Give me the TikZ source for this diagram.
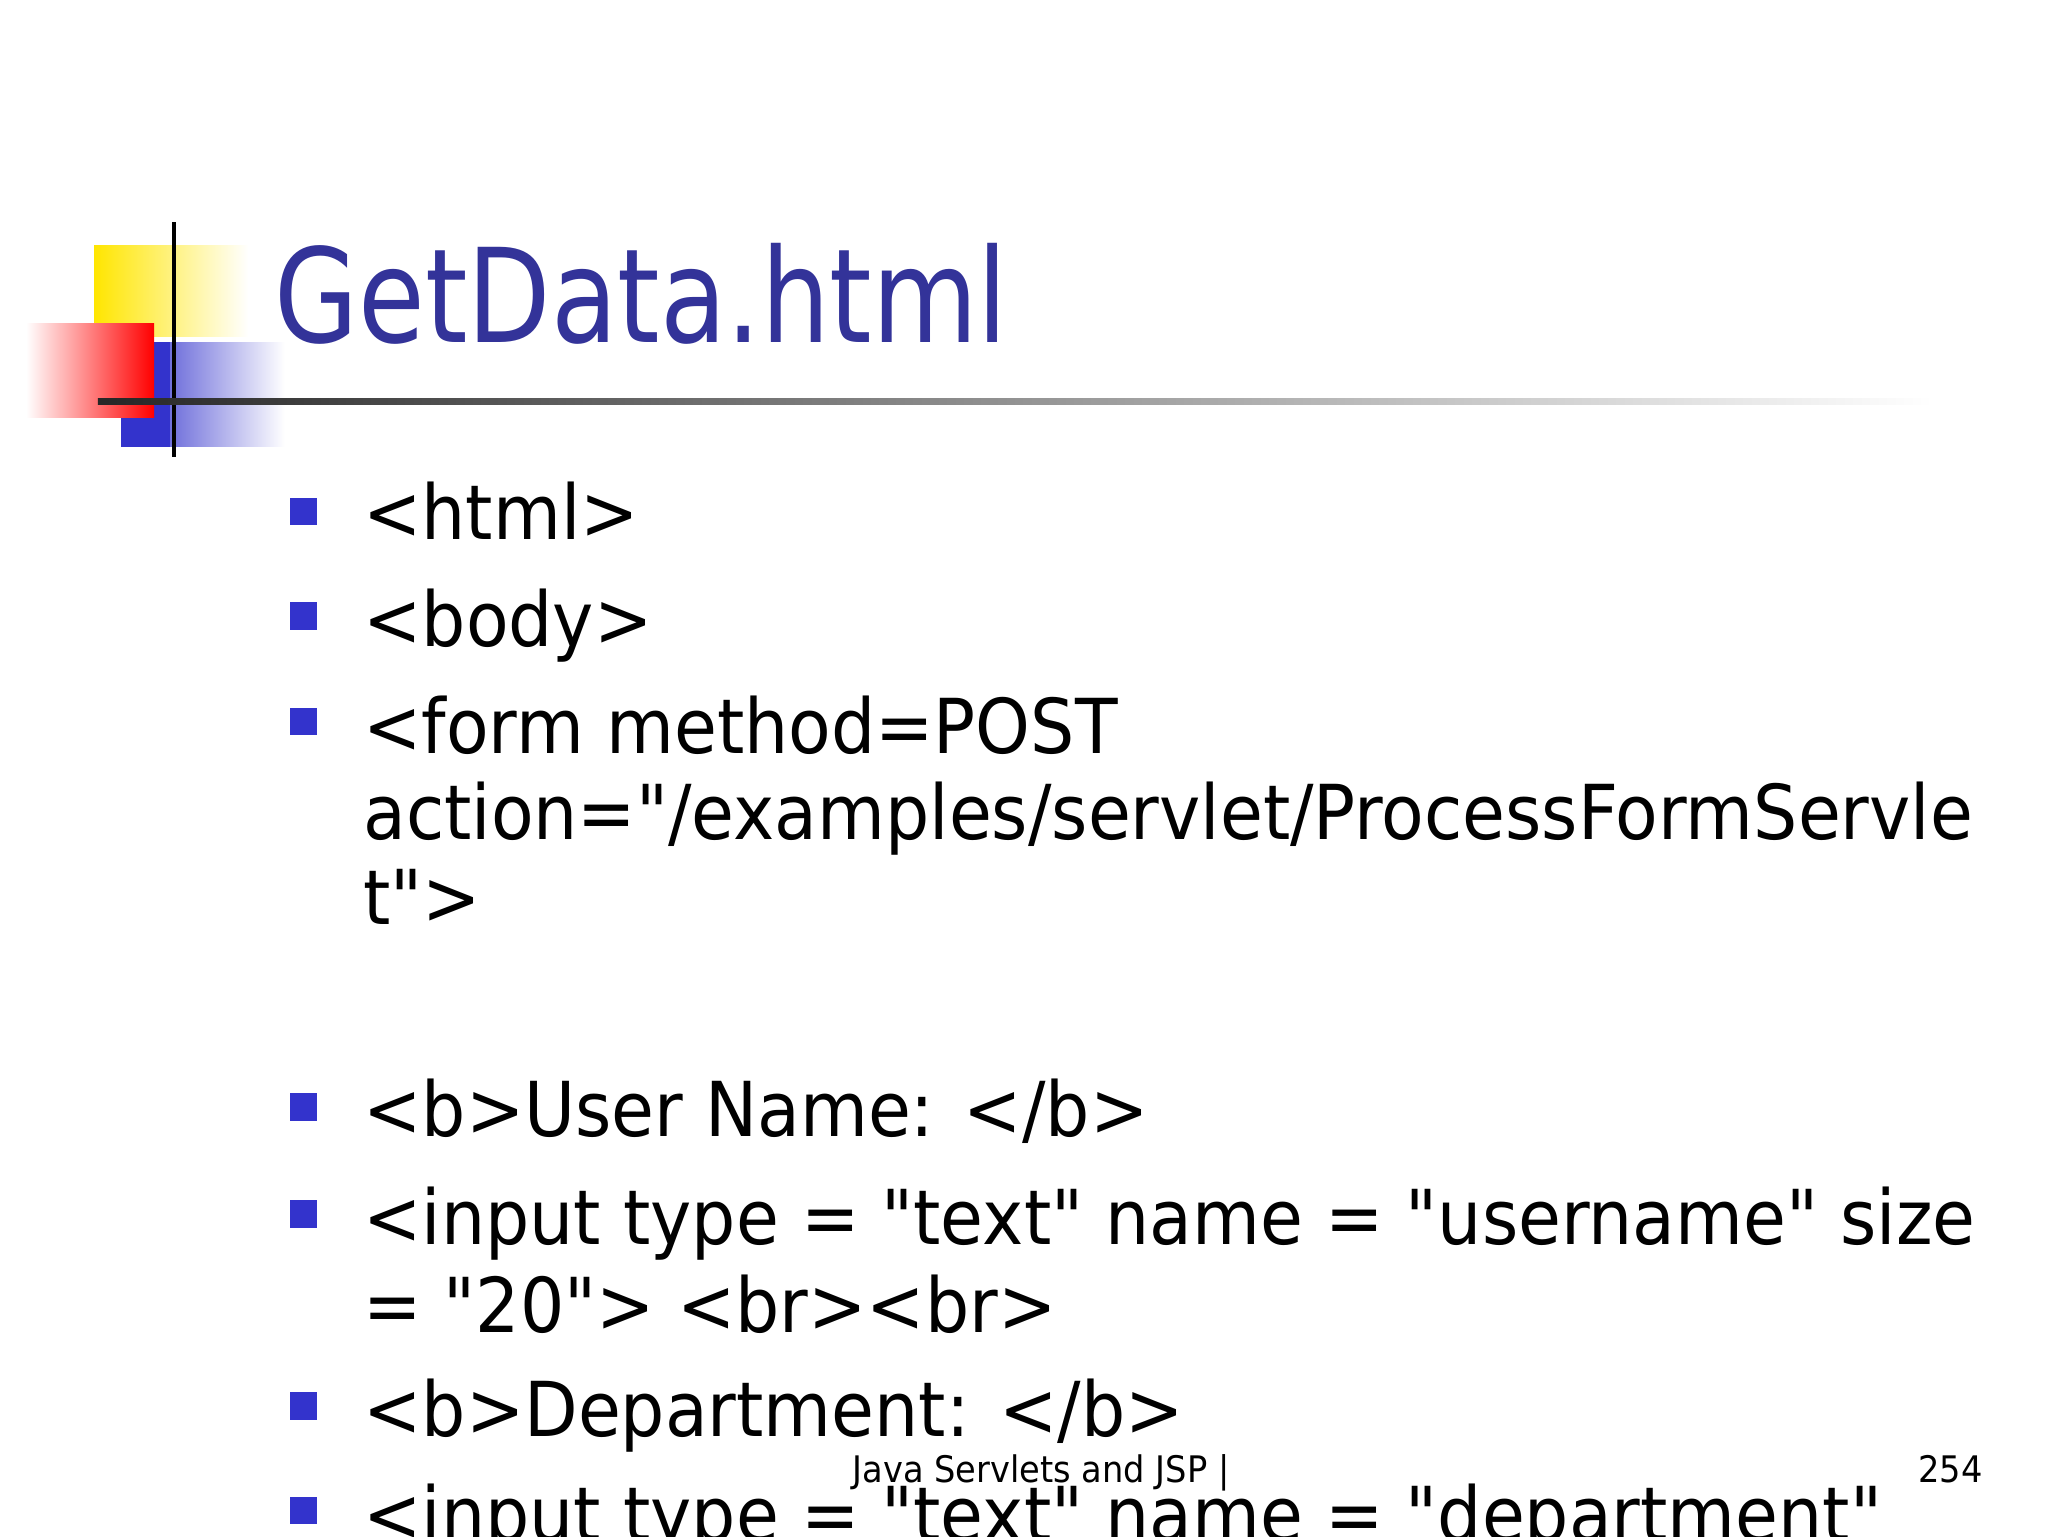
\documentclass[tikz,border=0pt]{standalone}
\usepackage{fontspec}
\setmainfont{DejaVu Sans}[Ligatures=TeXOff,FakeStretch=0.92]
\newfontfamily\titlefont{DejaVu Sans}[Ligatures=TeXOff,FakeStretch=0.83]
\usetikzlibrary{fadings}
\definecolor{tblue}{RGB}{51,51,153}
\definecolor{bblue}{RGB}{51,51,204}
\begin{document}
\begin{tikzpicture}[x=1pt,y=-1pt,
  txt/.style={anchor=base west,inner sep=0,font=\fontsize{58}{66}\selectfont},
  bul/.style={fill=bblue,draw=none}]
\useasboundingbox (0,0) rectangle (1568,1176);
\clip (0,0) rectangle (1568,1176);
\fill[white] (0,0) rectangle (1568,1176);
% logo
\shade[left color=yellow!80!orange,right color=white] (72,188) rectangle (190,258);
\shade[left color=bblue,right color=white] (93,262) rectangle (218,342);
\fill[bblue] (93,262) rectangle (130,342);
\shade[left color=white,right color=red] (20,248) rectangle (118,320);
\draw[line width=3pt] (133,170) -- (133,350);
\shade[left color=black!85,right color=white,draw=none] (75,305) rectangle (1480,310);
\node[anchor=base west,inner sep=0,text=tblue,font=\titlefont\fontsize{100}{110}\selectfont] (title) at (210,262) {GetData.html};
% bullets
\foreach \y in {392,472,553,848,930,1077,1157}{\fill[bul] (222,\y-11) rectangle (243,\y+10);}
\node[txt] (l1) at (278,413) {<html>};
\node[txt] (l2) at (278,495) {<body>};
\node[txt] (l3) at (278,577) {<form method=POST};
\node[txt] (l4) at (278,643) {action="/examples/servlet/ProcessFormServle};
\node[txt] (l5) at (278,708) {t">};
\node[txt] (l6) at (278,870) {<b>User Name: </b>};
\node[txt] (l7) at (278,953) {<input type = "text" name = "username" size};
\node[txt] (l8) at (278,1020) {= "20"> <br><br>};
\node[txt] (l9) at (278,1100) {<b>Department: </b>};
\node[txt] (l10) at (278,1180) {<input type = "text" name = "department"};
\node[anchor=base,inner sep=0,font=\fontsize{28}{32}\selectfont] (foot) at (797,1135) {Java Servlets and JSP |};
\node[anchor=base east,inner sep=0,font=\fontsize{28}{32}\selectfont] (page) at (1518,1135) {254};
\end{tikzpicture}
\end{document}
